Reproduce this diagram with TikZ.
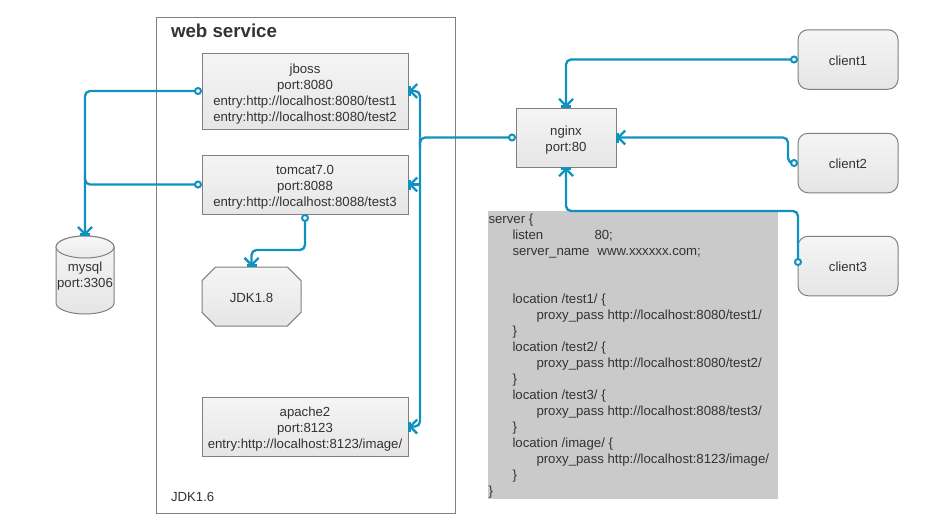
\documentclass[tikz,border=0pt]{standalone}
\usepackage{fontspec}
\setmainfont{Liberation Sans}
\usetikzlibrary{arrows.meta,shapes.misc,backgrounds}
\definecolor{wire}{HTML}{1192BE}
\definecolor{edge}{HTML}{808080}
\definecolor{ink}{HTML}{333333}
\definecolor{panel}{HTML}{CACACA}
\newcommand\dropA{\rule{0pt}{15.5pt}}
\newcommand\dropB{\rule{0pt}{12pt}}
\tikzset{
  every node/.style={text=ink,font=\fontsize{13.2}{16}\selectfont,inner sep=0pt,outer sep=0pt,align=center},
  boxbase/.style={draw=edge,line width=1pt,top color=black!4,bottom color=black!10},
  srv/.style={boxbase,minimum width=206pt,rectangle},
  client/.style={boxbase,minimum width=100pt,minimum height=59.5pt,rounded corners=10pt},
  wirepath/.style={draw=wire,line width=2.3pt,rounded corners=5pt},
  starttip/.tip={Circle[open,length=8pt,width=8pt,fill=white,line width=2pt]},
  endtip/.tip={Straight Barb[length=7pt,width=14pt,line width=2.3pt,sep=-2.5pt]Rectangle[width=10pt,length=3pt,sep=0pt]},
  link/.style={wirepath,starttip-endtip},
  plain/.style={wirepath,starttip-},
  tipped/.style={wirepath,-endtip},
}
\begin{document}
\begin{tikzpicture}[x=1pt,y=-1pt]
\useasboundingbox (0,0) rectangle (925,525);
\fill[white] (0,0) rectangle (925,525);
% containers
\node[draw=edge,line width=1pt,minimum width=299pt,minimum height=496pt] (web) at (305.5,265) {};
\node[anchor=west,font=\fontsize{18.7}{20}\selectfont\bfseries] (webtitle) at (171,31) {web service};
\node[anchor=west] (jdk16) at (171,497) {JDK1.6};
% config panel
\node[fill=panel,minimum width=290pt,minimum height=288pt] (conf) at (633,355) {};
\node[anchor=north west,align=left] (conftext) at (488.5,213.5) {server \{\\
\hspace*{24pt}\makebox[82pt][l]{listen}80;\\
\hspace*{24pt}\makebox[85pt][l]{server\_name}www.xxxxxx.com;\\
\mbox{}\\
\mbox{}\\
\hspace*{24pt}location /test1/ \{\\
\hspace*{48pt}proxy\_pass http://localhost:8080/test1/\\
\hspace*{24pt}\}\\
\hspace*{24pt}location /test2/ \{\\
\hspace*{48pt}proxy\_pass http://localhost:8080/test2/\\
\hspace*{24pt}\}\\
\hspace*{24pt}location /test3/ \{\\
\hspace*{48pt}proxy\_pass http://localhost:8088/test3/\\
\hspace*{24pt}\}\\
\hspace*{24pt}location /image/ \{\\
\hspace*{48pt}proxy\_pass http://localhost:8123/image/\\
\hspace*{24pt}\}\\
\}};
% servers
\node[srv,minimum height=76pt] (jboss) at (305,91) {\dropA jboss\\port:8080\\entry:http://localhost:8080/test1\\entry:http://localhost:8080/test2};
\node[srv,minimum height=59pt] (tomcat) at (305,184.5) {\dropA tomcat7.0\\port:8088\\entry:http://localhost:8088/test3};
\node[srv,minimum height=59pt] (apache) at (305,426.5) {\dropA apache2\\port:8123\\entry:http://localhost:8123/image/};
\node[boxbase,chamfered rectangle,chamfered rectangle xsep=7.5pt,chamfered rectangle ysep=7.5pt,minimum width=99pt,minimum height=59pt] (jdk18) at (251.5,296.5) {\dropB JDK1.8};
% database
\shade[top color=black!4,bottom color=black!10,draw=edge,line width=1pt]
  (56,247) arc[x radius=29,y radius=11,start angle=180,end angle=360] -- (114,303)
  arc[x radius=29,y radius=11,start angle=0,end angle=180] -- cycle;
\shade[top color=black!3,bottom color=black!8,draw=edge,line width=1pt]
  (85,247) ellipse[x radius=29,y radius=11];
\node[minimum width=58pt,minimum height=78pt] (mysql) at (85,275) {};
\node (mysqltext) at (85,276) {mysql\\port:3306};
% proxy and clients
\node[boxbase,minimum width=100pt,minimum height=59pt] (nginx) at (566,137.5) {\dropA nginx\\port:80};
\node[client] (c1) at (848,59.5) {\dropB client1};
\node[client] (c2) at (848,163) {\dropB client2};
\node[client] (c3) at (848,266) {\dropB client3};
\coordinate (c3port) at (798,266);
\coordinate (split) at (420,137.5);
\coordinate (join) at (85,184.5);
% connectors
\draw[link] (jboss.west) -- (85,91) -- (mysql.north);
\draw[plain] (tomcat.west) -- (join |- tomcat.west) -- (85,175);
\draw[link] (tomcat.south) -- (305,250) -- (251.5,250) -- (jdk18.north);
\draw[plain] (nginx.west) -- (split) -- (420,147);
\draw[tipped] (split) -- (420,91) -- (jboss.east);
\draw[tipped] (420,184.5) -- (tomcat.east);
\draw[tipped] (split) -- (420,426.5) -- (apache.east);
\draw[link] (c1.west) -- (566,59.5) -- (nginx.north);
\draw[link] (c2.west) -- (788,163) -- (788,137.5) -- (nginx.east);
\draw[link] (c3port) -- (798,211) -- (566,211) -- (nginx.south);
\end{tikzpicture}
\end{document}
